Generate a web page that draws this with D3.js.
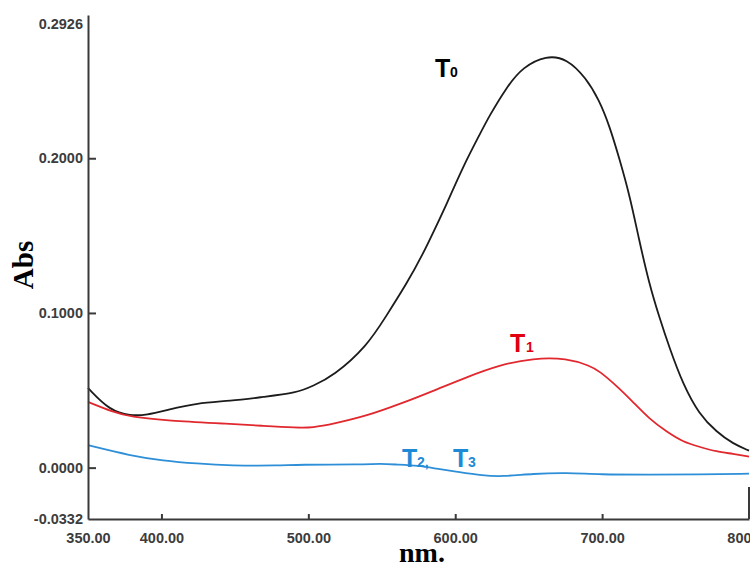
<!DOCTYPE html>
<html>
<head>
<meta charset="utf-8">
<script src="https://cdn.jsdelivr.net/npm/d3@7"></script>
<style>
  body { margin: 0; background: #fff; }
  #chart-area { width: 750px; height: 565px; }
</style>
</head>
<body>
<div id="chart-area"></div>
<script>
// T0 (black)
var t0Wave = [350, 365, 379, 390, 404, 424, 447, 469, 492, 503, 517, 540, 553, 567, 578, 587, 594, 605, 617, 623, 635, 646, 662, 676, 689, 698, 705, 712, 719, 725, 732, 739, 746, 755, 766, 778, 789, 800];
var t0Abs  = [0.0515, 0.0367, 0.0335, 0.034, 0.0373, 0.0418, 0.0431, 0.0457, 0.0483, 0.0528, 0.0592, 0.0786, 0.098, 0.119, 0.138, 0.156, 0.170, 0.194, 0.216, 0.227, 0.246, 0.259, 0.2665, 0.2645, 0.252, 0.2376, 0.221, 0.199, 0.175, 0.148, 0.119, 0.097, 0.077, 0.054, 0.0345, 0.023, 0.0155, 0.011];

// T1 (red)
var t1Wave = [350, 367, 379, 404, 447, 469, 492, 503, 517, 540, 562, 585, 608, 630, 653, 676, 692, 698, 710, 721, 732, 744, 755, 766, 778, 789, 800];
var t1Abs  = [0.0425, 0.036, 0.0328, 0.0303, 0.0283, 0.027, 0.0258, 0.0258, 0.0283, 0.0335, 0.041, 0.0496, 0.0586, 0.0663, 0.0708, 0.0708, 0.0657, 0.0625, 0.0528, 0.0425, 0.0316, 0.0232, 0.0167, 0.0135, 0.0103, 0.009, 0.0071];

// T2, T3 (blue)
var t2Wave = [350, 379, 401, 424, 447, 481, 492, 537, 549, 560, 575, 587, 601, 619, 632, 653, 676, 698, 732, 766, 800];
var t2Abs  = [0.0145, 0.0077, 0.0045, 0.0026, 0.0013, 0.0013, 0.002, 0.002, 0.0026, 0.002, 0.0013, -0.0006, -0.0026, -0.0052, -0.0058, -0.0039, -0.0032, -0.0045, -0.0045, -0.0045, -0.0039];

var xTicks = [350, 400, 500, 600, 700, 800];
var yTicks = [-0.0332, 0, 0.1, 0.2, 0.2926];

var width = 750, height = 565;

var svg = d3.select("#chart-area").append("svg")
    .attr("width", width)
    .attr("height", height);

var x = d3.scaleLinear()
    .domain([350, 800])
    .range([88, 749]);

var y = d3.scaleLinear()
    .domain([-0.0332, 0.2926])
    .range([519, 15]);

var line = d3.line()
    .x(d => x(d[0]))
    .y(d => y(d[1]))
    .curve(d3.curveBasis);

function pairs(w, a) {
  return w.map((v, i) => [v, a[i]]);
}

var series = [
  {data: pairs(t0Wave, t0Abs), color: "#1c1c1c"},
  {data: pairs(t1Wave, t1Abs), color: "#e0282e"},
  {data: pairs(t2Wave, t2Abs), color: "#2e8fd8"}
];

series.forEach(function(s) {
  svg.append("path")
      .datum(s.data)
      .attr("fill", "none")
      .attr("stroke", s.color)
      .attr("stroke-width", 1.8)
      .attr("d", line);
});

// axes
var xAxis = svg.append("g")
    .attr("transform", "translate(0,519)")
    .call(d3.axisBottom(x)
        .tickValues(xTicks)
        .tickSizeInner(-5)
        .tickSizeOuter(0)
        .tickPadding(14)
        .tickFormat(d => d.toFixed(2)));

var yAxis = svg.append("g")
    .attr("transform", "translate(88,0)")
    .call(d3.axisLeft(y)
        .tickValues(yTicks)
        .tickSizeInner(-8)
        .tickSizeOuter(0)
        .tickPadding(5)
        .tickFormat(d => d.toFixed(4)));

[xAxis, yAxis].forEach(function(g) {
  g.select(".domain").attr("stroke", "#3a3a3a").attr("stroke-width", 2);
  g.selectAll(".tick line").attr("stroke", "#3a3a3a").attr("stroke-width", 2);
  g.selectAll(".tick text")
      .attr("fill", "#3c3c3c")
      .style("font-family", "Liberation Sans, Arial, sans-serif")
      .style("font-size", "14.5px")
      .style("font-weight", "bold");
});

xAxis.selectAll(".tick").filter(d => d === 350).select("line").remove();
yAxis.selectAll(".tick").filter(d => d === -0.0332 || d === 0.2926).select("line").remove();
yAxis.selectAll(".tick").filter(d => d === 0.2926).select("text").attr("dy", "0.9em");

// right frame stub
svg.append("line")
    .attr("x1", x(800)).attr("x2", x(800))
    .attr("y1", 487).attr("y2", 519)
    .attr("stroke", "#3a3a3a")
    .attr("stroke-width", 2);

// axis titles
svg.append("text")
    .attr("transform", "translate(33,265) rotate(-90)")
    .attr("text-anchor", "middle")
    .style("font-family", "Liberation Serif, Times New Roman, serif")
    .style("font-size", "29px")
    .style("font-weight", "bold")
    .text("Abs");

svg.append("text")
    .attr("x", 422)
    .attr("y", 562)
    .attr("text-anchor", "middle")
    .style("font-family", "Liberation Serif, Times New Roman, serif")
    .style("font-size", "28px")
    .style("font-weight", "bold")
    .text("nm.");

// curve labels
function addLabel(parts, color) {
  var t = svg.append("text")
      .attr("fill", color)
      .style("font-family", "Liberation Sans, Arial, sans-serif")
      .style("font-weight", "bold");
  parts.forEach(function(p) {
    t.append("tspan")
        .attr("x", p.x)
        .attr("y", p.y)
        .style("font-size", p.size + "px")
        .text(p.text);
  });
}

addLabel([{text: "T", x: 435, y: 77, size: 25}, {text: "0", x: 450, y: 77, size: 14}], "#000");
addLabel([{text: "T", x: 510, y: 352, size: 25}, {text: "1", x: 526, y: 352, size: 14}], "#e00010");
addLabel([{text: "T", x: 402, y: 467, size: 25}, {text: "2,", x: 417, y: 467, size: 14},
          {text: "T", x: 453, y: 467, size: 25}, {text: "3", x: 468, y: 467, size: 14}], "#1e8ad6");
</script>
</body>
</html>
